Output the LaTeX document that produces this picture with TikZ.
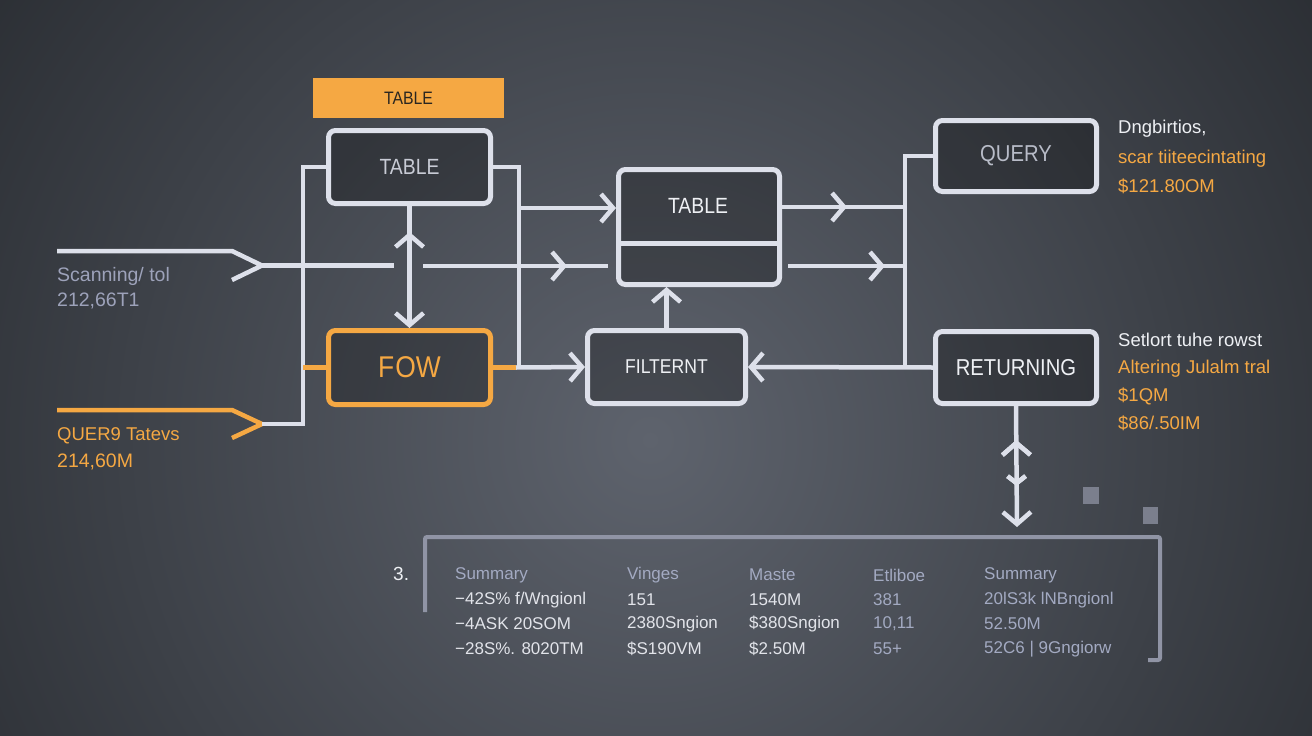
\documentclass[tikz,border=0pt]{standalone}
\usepackage{fontspec}
\setmainfont{Liberation Sans}
\newfontfamily\condf[FakeStretch=0.88]{Liberation Sans}
\usetikzlibrary{arrows.meta,decorations.markings,calc}
\definecolor{bgin}{HTML}{5E636D}
\definecolor{bgout}{HTML}{1C1F23}
\definecolor{linec}{HTML}{DDE0EA}
\definecolor{orng}{HTML}{F5A843}
\definecolor{tgray}{HTML}{C8CBD5}
\definecolor{qgray}{HTML}{B8BCC8}
\definecolor{wtxt}{HTML}{EEF0F4}
\definecolor{lav}{HTML}{9DA2BA}
\definecolor{hdr}{HTML}{A3AAC2}
\definecolor{rowc}{HTML}{E2E4EA}
\definecolor{sqc}{HTML}{7B7F8D}
\definecolor{brk}{HTML}{9094A5}
\definecolor{tagtxt}{HTML}{2A2620}
\tikzset{
  box/.style={draw=linec, line width=5pt, rounded corners=7pt, fill=black, fill opacity=0.25, text opacity=1, inner sep=0pt},
  conn/.style={draw=linec, line width=4.5pt},
  orline/.style={draw=orng, line width=4.5pt},
  tip/.style={-{Straight Barb[length=12pt,width=28pt]}},
  midarr/.style={postaction={decorate}, decoration={markings, mark=at position #1 with {\arrow{Straight Barb[length=12pt,width=28pt]}}}},
  revarr/.style={postaction={decorate}, decoration={markings, mark=at position #1 with {\arrowreversed{Straight Barb[length=12pt,width=28pt]}}}},
  smallarr/.style={postaction={decorate}, decoration={markings, mark=at position #1 with {\arrow{Straight Barb[length=7pt,width=18pt]}}}},
  txt/.style={anchor=west, inner sep=0pt},
  side/.style={txt, font=\fontsize{18.5}{22}\selectfont},
  cell/.style={txt, font=\fontsize{17}{20}\selectfont},
}
\begin{document}
\begin{tikzpicture}[x=1pt,y=-1pt]
\useasboundingbox (0,0) rectangle (1312,736);
\begin{scope}
\clip (0,0) rectangle (1312,736);
\fill[bgout] (0,0) rectangle (1312,736);
\shade[inner color=bgin, outer color=bgout] (650,440) circle (1050pt);
\end{scope}

% nodes
\node[fill=orng, minimum width=191pt, minimum height=40pt, inner sep=0pt, text=tagtxt, font=\condf\fontsize{18}{21}\selectfont] (tag) at (408.5,98) {TABLE};
\node[box, minimum width=162pt, minimum height=73pt, text=tgray, font=\condf\fontsize{22}{26}\selectfont] (tab) at (409.5,167) {TABLE};
\node[box, draw=orng, minimum width=162pt, minimum height=74pt, text=orng, font=\condf\fontsize{30}{34}\selectfont] (fow) at (409.5,367.5) {F\hspace{1pt}OW};
\node[box, minimum width=161pt, minimum height=115pt] (t2) at (699,227) {};
\node[txt, anchor=center, text=wtxt, font=\condf\fontsize{22}{26}\selectfont] (t2txt) at (698,206) {TABLE};
\node[box, minimum width=158pt, minimum height=73pt, text=wtxt, font=\condf\fontsize{20}{24}\selectfont] (fil) at (666.5,367) {FILTERNT};
\node[box, minimum width=161pt, minimum height=71pt, text=qgray, font=\condf\fontsize{23}{27}\selectfont] (q) at (1016,156) {QUERY};
\node[box, minimum width=161pt, minimum height=72pt, text=wtxt, font=\condf\fontsize{23}{27}\selectfont] (ret) at (1016,367.5) {RETURNING};
\draw[linec, line width=5pt] (t2.west |- 0,243) -- (t2.east |- 0,243);

% coordinates
\coordinate (lbx) at (303,0);
\coordinate (rbx) at (519,0);
\coordinate (rb2) at (905,0);
\coordinate (in1) at (57,251);
\coordinate (c1a) at (232,251);
\coordinate (c1t) at (262,265.5);
\coordinate (c1b) at (232,280);
\coordinate (g1) at (394,265.5);
\coordinate (in2) at (57,410);
\coordinate (c2a) at (232,410);
\coordinate (c2t) at (262,424);
\coordinate (c2b) at (232,438);
\coordinate (g2) at (423,266);
\coordinate (g3) at (608,266);
\coordinate (g4) at (788,266);
\coordinate (dend) at (1017,527);

% left inputs
\draw[conn, line join=miter] (in1) -- (c1a) -- (c1t) -- (c1b);
\draw[conn] (c1t) -- (g1);
\draw[orline, line join=miter] (in2) -- (c2a) -- (c2t) -- (c2b);
\draw[conn] (c2t) -- (c2t -| lbx) -- (tab.west -| lbx) -- (tab.west);
\draw[orline] (fow.west -| lbx) -- (fow.west);

% middle line
\draw[conn, midarr=144pt] (g2) -- (g3);
\draw[conn, midarr=97pt] (g4) -- (g4 -| rb2);

% table <-> fow
\draw[conn, tip, revarr=26pt] (tab.south) -- (fow.north);

% table right bus
\draw[conn] (tab.east) -- (tab.east -| rbx) -- (fow.east -| rbx);
\draw[conn, tip] (519,208) -- (t2.west |- 0,208);
\draw[orline] (fow.east) -- (516,367.5);
\draw[conn, tip] (516,367.5) -- (fil.west);

% table2 right
\draw[conn, midarr=65pt] (t2.east |- 0,207) -- (905,207);
\draw[conn] (q.west) -- (q.west -| rb2) -- (ret.west -| rb2);
\draw[conn, tip] (ret.west) -- (fil.east);
\draw[conn, tip] (fil.north) -- (fil.north |- t2.south);

% returning down
\draw[conn, tip, revarr=34pt, smallarr=80pt] (ret.south) -- (dend);

% squares
\fill[sqc] (1083,487) rectangle (1099,504);
\fill[sqc] (1143,507) rectangle (1158,524);

% left texts
\node[txt, text=lav, font=\fontsize{19.5}{23}\selectfont] (l1) at (57,276) {Scanning/ tol};
\node[txt, text=lav, font=\fontsize{19.5}{23}\selectfont] (l2) at (57,301) {212,66T1};
\node[txt, text=orng, font=\fontsize{18.5}{22}\selectfont] (l3) at (57,436) {QUER9 Tatevs};
\node[txt, text=orng, font=\fontsize{19.5}{23}\selectfont] (l4) at (57,462) {214,60M};

% right texts
\node[side, text=wtxt] (r1) at (1118,129) {Dngbirtios,};
\node[side, text=orng] (r2) at (1118,159) {scar tiiteecintating};
\node[side, text=orng] (r3) at (1118,186) {\$121.80OM};
\node[side, text=wtxt] (r4) at (1118,340) {Setlort tuhe rowst};
\node[side, text=orng] (r5) at (1118,369) {Altering Julalm tral};
\node[side, text=orng] (r6) at (1118,396) {\$1QM};
\node[side, text=orng] (r7) at (1118,423) {\$86/.50IM};

% bottom bracket
\draw[brk, line width=4pt, rounded corners=2pt] (425,612) -- (425,537) -- (1160,537) -- (1160,660) -- (1148,660);
\node[txt, text=wtxt, font=\fontsize{19}{22}\selectfont] (num) at (393,574) {3.};

% table text
\foreach \cx/\t [count=\i] in {455/Summary,627/Vinges,749/Maste,873/Etliboe,984/Summary}
  \node[cell, text=hdr] (h\i) at (\cx,575) {\t};
\node[cell, text=rowc] at (455,600) {−42S\% f/Wngionl};
\node[cell, text=rowc] at (627,600) {151};
\node[cell, text=rowc] at (749,600) {1540M};
\node[cell, text=hdr] at (873,600) {381};
\node[cell, text=hdr] at (984,600) {20lS3k lNBngionl};
\node[cell, text=rowc] at (455,624) {−4ASK 20SOM};
\node[cell, text=rowc] at (627,624) {2380Sngion};
\node[cell, text=rowc] at (749,624) {\$380Sngion};
\node[cell, text=hdr] at (873,624) {10,11};
\node[cell, text=hdr] at (984,624) {52.50M};
\node[cell, text=rowc] at (455,649) {−28S\%. 8020TM};
\node[cell, text=rowc] at (627,649) {\$S190VM};
\node[cell, text=rowc] at (749,649) {\$2.50M};
\node[cell, text=hdr] at (873,649) {55+};
\node[cell, text=hdr] at (984,649) {52C6 | 9Gngiorw};
\end{tikzpicture}
\end{document}
